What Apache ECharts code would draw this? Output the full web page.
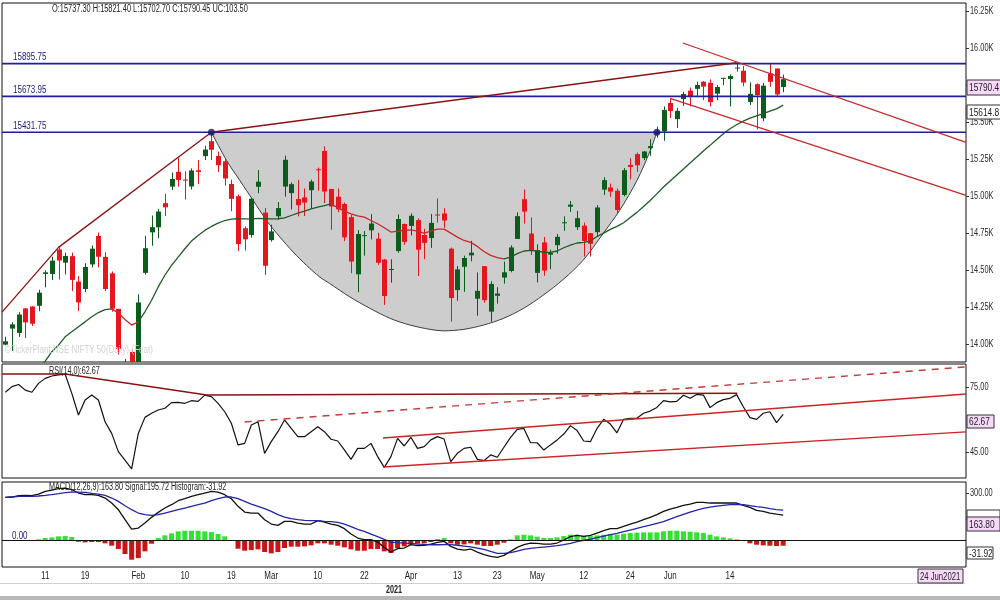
<!DOCTYPE html>
<html><head><meta charset="utf-8">
<script src="https://cdn.jsdelivr.net/npm/echarts@6/dist/echarts.min.js"></script>
<style>html,body{margin:0;padding:0;background:#fff}#c{width:1000px;height:600px}</style>
</head><body><div id="c"></div>
<script>
// ---------- DATA ----------
const dates = [
'2021-01-01','2021-01-04','2021-01-05','2021-01-06','2021-01-07','2021-01-08','2021-01-11','2021-01-12','2021-01-13','2021-01-14',
'2021-01-15','2021-01-18','2021-01-19','2021-01-20','2021-01-21','2021-01-22','2021-01-25','2021-01-27','2021-01-28','2021-01-29',
'2021-02-01','2021-02-02','2021-02-03','2021-02-04','2021-02-05','2021-02-08','2021-02-09','2021-02-10','2021-02-11','2021-02-12',
'2021-02-15','2021-02-16','2021-02-17','2021-02-18','2021-02-19','2021-02-22','2021-02-23','2021-02-24','2021-02-25','2021-02-26',
'2021-03-01','2021-03-02','2021-03-03','2021-03-04','2021-03-05','2021-03-08','2021-03-09','2021-03-10','2021-03-12','2021-03-15',
'2021-03-16','2021-03-17','2021-03-18','2021-03-19','2021-03-22','2021-03-23','2021-03-24','2021-03-25','2021-03-26','2021-03-30',
'2021-03-31','2021-04-01','2021-04-05','2021-04-06','2021-04-07','2021-04-08','2021-04-09','2021-04-12','2021-04-13','2021-04-15',
'2021-04-16','2021-04-19','2021-04-20','2021-04-22','2021-04-23','2021-04-26','2021-04-27','2021-04-28','2021-04-29','2021-04-30',
'2021-05-03','2021-05-04','2021-05-05','2021-05-06','2021-05-07','2021-05-10','2021-05-11','2021-05-12','2021-05-14','2021-05-17',
'2021-05-18','2021-05-19','2021-05-20','2021-05-21','2021-05-24','2021-05-25','2021-05-26','2021-05-27','2021-05-28','2021-05-31',
'2021-06-01','2021-06-02','2021-06-03','2021-06-04','2021-06-07','2021-06-08','2021-06-09','2021-06-10','2021-06-11','2021-06-14',
'2021-06-15','2021-06-16','2021-06-17','2021-06-18','2021-06-21','2021-06-22','2021-06-23','2021-06-24'];

const opens = [
13996.1,14104.35,14075.15,14240.95,14253.75,14258.4,14474.05,14473.8,14639.8,14550.05,
14594.35,14422.3,14371.9,14538.3,14730.95,14589.4,14477.8,14237.95,13810.4,13946.6,
13758.6,14481.1,14754.9,14789.05,14952.6,15064.3,15164.15,15112,15065,15174.8,
15270.3,15371.45,15271,15236,15082,14999,14783,14737,15063,14888.6,
14702.5,14863.9,15064.4,15020,14980,14991.2,15040,15182,15305,15048.4,
14996.1,14946.55,14858,14471.6,14733,14768.55,14712.45,14570.9,14506.3,14628.5,
14811.85,14798.4,14837.7,14737,14716.45,14875.65,14882.65,14644.65,14364.9,14522.4,
14599.6,14306.6,14526.95,14219.15,14326.3,14449.45,14493.8,14710.5,14979,14747.35,
14481.05,14687.25,14604.15,14668.35,14816.85,14928.25,14789.7,14800,14749.4,14756.3,
15044,15058.6,15036,15007.75,15211.35,15284,15257.05,15323.95,15421.2,15437.75,
15629.65,15520.3,15655.55,15712.5,15725.1,15773.55,15766.3,15692.6,15796.45,15791.4,
15866.95,15847.5,15636.55,15756.5,15525.85,15830,15862.8,15737.3];

const highs = [
14049.85,14147.95,14215.6,14244.15,14256.25,14367.3,14498.2,14590.65,14653.35,14617.8,
14617.8,14459.1,14546.05,14666.45,14753.55,14619.9,14491.1,14237.95,13898.25,13966.85,
14336.35,14731.7,14868.85,14913.7,15014.65,15159.9,15257.1,15168.25,15187.3,15243.5,
15340.15,15431.75,15301,15250,15111,15010,14795,14990,15176.3,14919.1,
14806.8,14960,15273.15,15092.35,15110,15051.6,15111,15193,15336.3,15048.4,
15051.6,14956.55,14875.2,14770,14763.9,14878.6,14752.35,14575.6,14572.9,14876.3,
14813.75,14883.2,14849.85,14779.1,14879.8,14984.15,14918.45,14652.5,14527.9,14597.55,
14697.7,14483.85,14526.95,14424.75,14384.3,14557.5,14667.55,14890.25,15044.35,14855.45,
14673.85,14723.4,14637.9,14743.9,14863.05,14966.9,14900.45,14821,14749.65,14938.6,
15128,15084.95,15052.25,15189.6,15256.25,15294,15305.1,15384.55,15469.65,15606.35,
15660.75,15597.45,15705.1,15733.6,15773.45,15778.8,15789,15751.25,15800,15823.05,
15901.6,15880.45,15769.35,15761.5,15765.15,15895.75,15862.95,15821.4];

const lows = [
13991.35,13953.75,14048.15,14039.9,14123.1,14221.65,14383.1,14432.85,14435.7,14471.5,
14357.85,14222.8,14350.85,14517.55,14517.25,14357.75,14218.6,13929.3,13713.25,13596.75,
13661.75,14469.15,14664.6,14714.75,14864.75,15041.05,15064.3,14977.2,15045,15081,
15243.45,15243.45,15163,15070,14898,14628,14633,14720,15020,14467.75,
14692.45,14840,14995.8,14910,14863,14865.75,14919,15036,14953.45,14772.35,
14890.65,14696.05,14478.6,14350,14597.85,14707,14535,14264.4,14414.25,14617.6,
14670.25,14734.4,14459.5,14573.9,14649.85,14821.1,14785.65,14151.4,14292.15,14353.2,
14559,14191.4,14278.4,14151.4,14273.3,14408,14484.85,14710.4,14814.45,14601.7,
14416.25,14461.5,14506.6,14611.5,14765.5,14892.5,14771.25,14591.9,14591.9,14725.35,
15008,14994.75,14884.7,14997.8,15112.25,15163.4,15243.6,15272.5,15394.75,15374,
15528.3,15459.85,15611,15606.35,15678.1,15649.3,15606.2,15648.5,15749.8,15606.5,
15842.4,15742.6,15616.75,15450.9,15505.65,15739.65,15673.95,15702.7];

const closes = [
14018.5,14132.9,14199.5,14146.25,14137.35,14347.25,14484.75,14563.45,14564.85,14595.6,
14433.7,14281.3,14521.15,14644.7,14590.35,14371.9,14238.9,13967.5,13817.55,13634.6,
14281.2,14647.85,14789.95,14895.65,14924.25,15115.8,15109.3,15106.5,15173.3,15163.3,
15314.7,15313.45,15208.9,15118.95,14981.75,14675.7,14707.7,14982,15097.35,14529.15,
14761.55,14919.1,15245.6,15080.75,14938.1,14956.2,15098.4,15174.8,15030.95,14929.5,
14910.45,14721.3,14557.85,14744,14736.4,14814.75,14549.4,14324.9,14507.3,14845.1,
14690.7,14867.35,14637.8,14683.5,14819.05,14873.8,14834.85,14310.8,14504.8,14581.45,
14617.85,14359.45,14296.4,14406.15,14341.35,14485,14653.05,14864.55,14894.9,14631.1,
14634.15,14496.5,14617.85,14724.8,14823.15,14942.35,14850.75,14696.5,14677.8,14923.15,
15108.1,15030.15,14906.05,15175.3,15197.7,15208.45,15301.45,15337.85,15435.65,15582.8,
15574.85,15576.2,15690.35,15670.25,15751.65,15740.1,15635.35,15737.75,15799.35,15811.85,
15869.25,15767.55,15691.4,15683.35,15746.5,15772.75,15686.95,15790.45];

const ma20 = [
13560,13620,13680,13730,13780,13830,13885,13948,13993,14049,
14083,14117,14150,14184,14213,14233,14238,14211,14166,14128,
14150,14218,14296,14386,14465,14532,14588,14644,14696,14734,
14768,14795,14817,14835,14844,14847,14846,14845,14849,14848,
14846,14847,14853,14869,14885,14898,14914,14925,14936,14947,
14921,14898,14880,14867,14858,14835,14813,14786,14757,14763,
14768,14772,14763,14750,14763,14777,14777,14750,14723,14700,
14687,14660,14626,14599,14584,14575,14588,14611,14629,14633,
14629,14620,14620,14629,14651,14669,14683,14687,14696,14727,
14750,14775,14795,14820,14855,14890,14930,14970,15015,15062,
15102,15143,15183,15224,15264,15305,15343,15383,15421,15455,
15482,15507,15527,15543,15558,15574,15590,15614.8];

const rsi = [
72.9,75.5,76.5,73.9,72.9,77.0,79.3,80.4,80.9,81.2,
72.4,62.4,69.3,71.6,69.3,59.3,53.9,45.5,41.6,37.5,
53.9,61.3,63.2,64.7,65.5,68.1,68.2,67.8,69.0,68.7,
71.6,70.9,67.8,63.9,58.6,48.6,49.3,57.8,59.3,44.7,
50.1,54.7,60.1,56.2,52.4,52.4,54.7,57.0,54.7,51.2,
50.4,46.3,41.9,47.0,47.0,49.3,43.2,38.2,43.2,51.6,
48.1,52.1,47.0,47.8,50.9,52.4,51.3,40.9,44.7,47.0,
47.5,41.9,41.3,44.0,42.9,47.5,52.1,55.8,56.2,49.6,
49.6,46.2,48.6,50.9,53.6,57.5,55.2,50.4,50.1,56.2,
60.4,58.2,54.2,60.4,60.9,60.9,63.2,64.2,65.9,69.0,
68.5,68.7,71.5,70.1,71.9,71.6,65.8,68.1,69.5,70.1,
71.8,66.2,61.2,60.4,63.2,63.9,58.9,62.67];

const macd = [
276.6,278.8,287.3,289.4,287.3,297.9,314.9,323.5,332.0,336.2,
325.6,304.3,293.7,293.7,289.4,272.4,240.5,197.9,134.1,74.5,
80.9,112.8,149.0,180.9,208.5,229.8,255.4,268.1,283.0,293.7,
304.3,314.9,310.7,293.7,268.1,219.2,183.0,176.6,176.6,134.1,
106.4,97.9,123.4,123.4,112.8,106.4,106.4,127.7,119.2,106.4,
97.9,76.6,42.6,17.0,6.4,6.4,-8.5,-42.6,-72.4,-51.1,
-46.8,-25.5,-31.9,-29.8,-21.3,-10.6,-4.3,-36.2,-53.2,-59.6,
-53.2,-72.4,-89.4,-100.0,-106.4,-93.6,-68.1,-42.6,-25.5,-14.9,
-17.0,-21.3,-21.3,-14.9,4.3,25.5,34.0,27.7,34.0,48.9,
63.8,76.6,76.6,91.5,106.4,119.2,134.1,149.0,166.0,187.3,
202.2,212.8,225.6,234.1,244.7,244.7,240.5,240.5,240.5,240.5,
240.5,225.6,212.8,193.6,187.3,176.6,170.0,163.80];

const signal = [
276.6,278.8,283.0,283.0,283.0,285.2,289.4,293.7,300.0,306.4,
310.7,310.7,308.6,302.2,297.9,289.4,272.4,251.1,223.4,197.9,
176.6,166.0,161.7,166.0,176.6,187.3,197.9,208.5,219.2,229.8,
240.5,255.4,268.1,278.8,278.8,268.1,251.1,234.1,219.2,204.3,
187.3,166.0,151.1,140.4,134.1,129.8,127.7,127.7,123.4,121.3,
117.0,106.4,89.4,72.4,59.6,42.6,25.5,8.5,-8.5,-12.8,
-14.9,-17.0,-21.3,-24.0,-26.0,-26.0,-25.0,-25.0,-29.0,-34.0,
-39.0,-46.8,-55.3,-68.1,-80.9,-80.9,-76.6,-66.0,-55.3,-48.9,
-44.7,-40.4,-36.2,-31.9,-25.5,-17.0,-6.4,2.1,10.6,19.2,
29.8,38.3,46.8,57.5,68.1,78.7,89.4,100.0,110.7,121.3,
138.3,153.2,168.1,183.0,195.8,206.4,214.9,221.3,225.6,229.8,
232.0,229.8,223.4,217.1,212.8,204.3,197.9,195.72];

const hist = [
0,0,2.1,4.3,4.3,8.5,17.0,21.3,27.7,29.8,
23.4,-6.4,-10.6,-8.5,-8.5,-17.0,-31.9,-53.2,-85.1,-121.3,
-110.7,-68.1,-19.2,17.0,34.0,46.8,59.6,63.8,63.8,63.8,
59.6,55.3,42.6,27.7,4.3,-51.1,-63.8,-59.6,-55.3,-72.4,
-80.9,-72.4,-46.8,-38.3,-38.3,-36.2,-29.8,-17.0,-17.0,-25.5,
-31.9,-42.6,-55.3,-63.8,-63.8,-53.2,-53.2,-68.1,-78.7,-46.8,
-36.2,-25.5,-19.2,-17.0,-8.5,10.6,17.0,-17.0,-25.5,-23.4,
-17.0,-25.5,-34.0,-34.0,-25.5,-12.8,8.5,34.0,38.3,34.0,
25.5,17.0,17.0,21.3,29.8,38.3,38.3,31.9,29.8,34.0,
38.3,42.6,38.3,44.7,48.9,51.1,53.2,53.2,53.2,59.6,
63.8,63.8,59.6,57.5,53.2,48.9,38.3,27.7,21.3,14.9,
8.5,2.1,-17.0,-25.5,-29.8,-31.9,-34.0,-31.92];

const levels = [15895.75, 15673.95, 15431.75];
const tickDates  = ['2021-01-11','2021-01-19','2021-02-01','2021-02-10','2021-02-19','2021-03-01','2021-03-10','2021-03-22','2021-04-01','2021-04-13','2021-04-23','2021-05-03','2021-05-12','2021-05-24','2021-06-01','2021-06-14'];
const tickLabels = ['11','19','Feb','10','19','Mar','10','22','Apr','13','23','May','12','24','Jun','14'];
const priceTicks = [14000,14250,14500,14750,15000,15250,15500,15750,16000,16250];
const rsiTicks = [45, 75];
const macdTicks = [300];

// annotations: [slot index, value]
const cupCurve = [[31,15431.75],[33.3,15239],[35.3,15104],[37.3,14969],[39.3,14835],[41.3,14723],[43.3,14622],[45.3,14532],[47.3,14453],[48.8,14409],[51.8,14319],[54.9,14240],[57.9,14173],[60.9,14128],[63.9,14099],[65.9,14089],[68.9,14099],[71.9,14128],[74.9,14173],[77.9,14240],[80.9,14330],[83.9,14436],[86.9,14566],[89.9,14746],[92.4,14903],[95,15105],[97,15307],[98,15431.75]];
const cupPivots = [[31,15431.75],[98,15431.75]];
const trendUp = [[-0.5,14216],[8,14653.35],[31,15431.75],[110,15901.6]];
const chanUpper = [[101.9,16035],[144.5,15364]];
const chanLower = [[100,15660.75],[144.5,15005]];
const rsiResist = [[-0.5,81.3],[9,81.3],[30.3,71.6],[110.1,72.4]];
const rsiDashed = [[36,59.2],[144.5,84.6]];
const rsiChanUpper = [[56.8,51.8],[144.5,72.1]];
const rsiChanLower = [[56.8,38.4],[144.5,54.6]];

// ---------- CHART ----------
const SLOTS = 145;
const cats = dates.slice();
for (let k = 0; cats.length < SLOTS; k++) cats.push('slot' + k);
const FONT = "'Liberation Sans',Arial,sans-serif";
const fnt = (s, w) => (w || 'normal') + ' ' + s + 'px ' + FONT;
const SX = 0.75;
const last = dates.length - 1;
const UP = '#0c5c1c', DOWN = '#e5161c';

function sText(text, x, y, o) {
  o = o || {};
  return {type: 'text', x, y, z2: 50, scaleX: o.sx || SX, silent: true,
    style: {text, x: 0, y: 0, font: fnt(o.size || 10, o.weight), fill: o.color || '#222',
      align: o.align || 'left', verticalAlign: 'middle'}};
}

const G = [
  {left: 2, right: 34, top: 3, height: 359},
  {left: 2, right: 34, top: 364, height: 114},
  {left: 2, right: 34, top: 482, height: 85}
].map(g => Object.assign(g, {show: true, borderColor: '#111', borderWidth: 1, backgroundColor: '#fff', containLabel: false, outerBoundsMode: 'none'}));

function catAxis(gi) {
  return {type: 'category', gridIndex: gi, data: cats, boundaryGap: true,
    axisLine: {show: false}, axisTick: {show: false}, splitLine: {show: false}, axisLabel: {show: false}};
}
function valXAxis(gi) {
  return {type: 'value', gridIndex: gi, min: -0.5, max: SLOTS - 0.5, show: false};
}
function yAx(gi, min, max, ticks) {
  return {type: 'value', gridIndex: gi, position: 'right', min, max, scale: true,
    axisLine: {show: false, onZero: false}, splitLine: {show: false},
    axisTick: {show: true, length: 3, customValues: ticks, lineStyle: {color: '#333'}},
    axisLabel: {show: false}};
}
function annot(data, xi, yi, color, width, type, z) {
  return {type: 'line', xAxisIndex: xi, yAxisIndex: yi, data, symbol: 'none', silent: true, clip: true,
    lineStyle: {color, width, type: type || 'solid'}, z: z || 5, animation: false};
}
// right-hand tick labels drawn through the axis scale
function yLabels(ticks, xi, yi, fmt) {
  return {type: 'custom', xAxisIndex: xi, yAxisIndex: yi, data: ticks.map(v => [SLOTS - 0.5, v]), clip: false, silent: true, z: 20,
    renderItem: (params, api) => {
      const p = api.coord([api.value(0), api.value(1)]);
      return sText(fmt(api.value(1)), p[0] + 4, p[1], {color: '#2a2a2a', sx: 0.74});
    }};
}
function box(x, y, w, h, fill, text, sx) {
  return {type: 'group', z: 100, children: [
    {type: 'rect', z: 100, shape: {x, y, width: w, height: h}, style: {fill, stroke: '#333', lineWidth: 1}},
    Object.assign(sText(text, x + 2, y + h / 2 + 0.5, {size: 11, sx: sx || 0.76}), {z: 101})
  ]};
}
function gText(text, x, y, o) { return Object.assign(sText(text, x, y, o), {z: 90}); }

const f2 = v => v.toFixed(2);
const trunc1 = v => (Math.floor(v * 10) / 10).toFixed(1);
const header = 'O:' + f2(opens[last]) + ' H:' + f2(highs[last]) + ' L:' + f2(lows[last]) + ' C:' + f2(closes[last]) + ' UC:' + f2(closes[last] - closes[last - 1]);

const option = {
  animation: false,
  backgroundColor: '#fff',
  grid: G,
  xAxis: [catAxis(0), catAxis(1), catAxis(2), valXAxis(0), valXAxis(1), valXAxis(2)],
  yAxis: [
    yAx(0, 13878.6, 16305.4, priceTicks),
    yAx(1, 33.32, 85.94, rsiTicks),
    yAx(2, -167.9, 374.7, macdTicks)
  ],
  visualMap: [{
    type: 'piecewise', show: false, seriesIndex: 2, dimension: 0,
    pieces: [
      {lt: 16, color: '#1f5a22'}, {gte: 16, lt: 20, color: '#c8282a'},
      {gte: 20, lt: 49, color: '#1f5a22'}, {gte: 49, lt: 75.4, color: '#c8282a'},
      {gte: 75.4, color: '#1f5a22'}
    ]
  }],
  series: [
    { // 0: cup fill
      type: 'custom', xAxisIndex: 3, yAxisIndex: 0, data: [0], z: 1, silent: true, clip: true,
      renderItem: (params, api) => {
        const pts = cupCurve.map(p => api.coord(p));
        return {type: 'group', children: [
          {type: 'polygon', shape: {points: pts}, style: {fill: '#cdcdcd', stroke: null}},
          {type: 'polyline', shape: {points: pts, smooth: 0.3}, style: {stroke: '#3a3a3a', lineWidth: 1, fill: null}}
        ]};
      }
    },
    { // 1: candles (custom so they clip to the price panel)
      type: 'custom', xAxisIndex: 0, yAxisIndex: 0, clip: true, z: 3, silent: true,
      data: dates.map((d, i) => [i, opens[i], closes[i], lows[i], highs[i]]),
      encode: {x: 0, y: [1, 2, 3, 4]},
      renderItem: (params, api) => {
        const i = api.value(0), o = api.value(1), c = api.value(2), l = api.value(3), h = api.value(4);
        const pO = api.coord([i, o]), pC = api.coord([i, c]), pL = api.coord([i, l]), pH = api.coord([i, h]);
        const col = c >= o ? UP : DOWN;
        const x = Math.round(pO[0]) + 0.5;
        const top = Math.min(pO[1], pC[1]), ht = Math.max(1, Math.abs(pO[1] - pC[1]));
        return {type: 'group', children: [
          {type: 'line', shape: {x1: x, y1: pH[1], x2: x, y2: pL[1]}, style: {stroke: col, lineWidth: 1}},
          {type: 'rect', shape: {x: x - 2.5, y: top, width: 5, height: ht}, style: {fill: col, stroke: null}}
        ]};
      }
    },
    { // 2: moving average
      type: 'line', xAxisIndex: 0, yAxisIndex: 0, data: ma20, symbol: 'none', clip: true, z: 4,
      lineStyle: {width: 1.3}
    },
    annot(trendUp, 3, 0, '#8a1212', 1.3),
    annot(chanUpper, 3, 0, '#c42a2a', 1.3),
    annot(chanLower, 3, 0, '#c42a2a', 1.3),
    { // level lines with their labels
      type: 'custom', xAxisIndex: 3, yAxisIndex: 0, data: levels.map(v => [-0.5, v]), clip: false, silent: true, z: 5,
      renderItem: (params, api) => {
        const v = api.value(1);
        const p0 = api.coord([-0.5, v]), p1 = api.coord([SLOTS - 0.5, v]);
        return {type: 'group', children: [
          {type: 'line', shape: {x1: p0[0], y1: p0[1], x2: p1[0], y2: p1[1]}, style: {stroke: '#1e1e9e', lineWidth: 1.6}},
          sText(v.toFixed(2), p0[0] + 11, p0[1] - 6, {color: '#1a1a7a', sx: 0.8})
        ]};
      }
    },
    {type: 'scatter', xAxisIndex: 3, yAxisIndex: 0, data: cupPivots, symbolSize: 7, itemStyle: {color: '#141a66'}, z: 6, silent: true},
    // RSI
    {type: 'line', xAxisIndex: 1, yAxisIndex: 1, data: rsi, symbol: 'none', clip: true, z: 4, lineStyle: {color: '#111', width: 1.2}},
    annot(rsiResist, 4, 1, '#8a1212', 1.5),
    annot(rsiDashed, 4, 1, '#c23a3a', 1.4, [7, 6]),
    annot(rsiChanUpper, 4, 1, '#cc2424', 1.4),
    annot(rsiChanLower, 4, 1, '#cc2424', 1.4),
    // MACD
    {
      type: 'bar', xAxisIndex: 2, yAxisIndex: 2, data: hist, barWidth: 5, z: 2, silent: true,
      itemStyle: {color: p => p.value >= 0 ? '#2fe32f' : '#c81414'},
      markLine: {silent: true, symbol: ['none', 'none'], animation: false, label: {show: false},
        lineStyle: {color: '#111', width: 1, type: 'solid'}, data: [{yAxis: 0}]}
    },
    {type: 'line', xAxisIndex: 2, yAxisIndex: 2, data: macd, symbol: 'none', z: 4, lineStyle: {color: '#111', width: 1.3}},
    {type: 'line', xAxisIndex: 2, yAxisIndex: 2, data: signal, symbol: 'none', z: 4, lineStyle: {color: '#2424a8', width: 1.3}},
    // axis labels
    yLabels(priceTicks, 3, 0, v => (v / 1000).toFixed(2) + 'K'),
    yLabels(rsiTicks, 4, 1, v => v.toFixed(2)),
    yLabels(macdTicks, 5, 2, v => v.toFixed(2)),
    { // date labels under the MACD panel
      type: 'custom', xAxisIndex: 2, yAxisIndex: 2, clip: false, silent: true, z: 20,
      data: tickDates.map(d => [dates.indexOf(d), -167.9]),
      renderItem: (params, api) => {
        const p = api.coord([api.value(0), api.value(1)]);
        return sText(tickLabels[params.dataIndex], p[0], p[1] + 9, {align: 'center', sx: 0.8});
      }
    }
  ],
  graphic: {elements: [
    gText(header, 52, 9, {sx: 0.74}),
    gText('©TickerPlant:NSE NIFTY 50(Daily)-(Feat)', 5, 350, {color: '#d2d2d2', sx: 0.8}),
    gText('RSI(14,0):' + f2(rsi[last]), 49, 371, {sx: 0.72}),
    gText('MACD(12,26,9):' + f2(macd[last]) + ' Signal:' + f2(signal[last]) + ' Histogram:' + f2(hist[last]), 49, 487, {sx: 0.72}),
    gText('0.00', 12, 536, {color: '#1a1a6a', sx: 0.8}),
    gText('2021', 386, 590, {weight: 'bold', sx: 0.72}),
    {type: 'rect', z: 80, shape: {x: 0, y: 583, width: 965, height: 1}, style: {fill: '#d0d0d0'}},
    {type: 'rect', z: 80, shape: {x: 0, y: 596, width: 1000, height: 4}, style: {fill: '#b8b8b8'}},
    box(967, 80, 34, 15, '#f8d8f8', trunc1(closes[last])),
    box(967, 105, 34, 14, '#ffffff', trunc1(ma20[last])),
    box(967, 415, 27, 13, '#f8d8f8', f2(rsi[last])),
    box(967, 510, 33, 10, '#ffffff', ''),
    box(967, 517, 33, 14, '#f8d8f8', f2(macd[last])),
    box(967, 547, 26, 12, '#ffffff', f2(hist[last])),
    box(918, 569, 45, 14, '#f8d8f8', '24 Jun2021', 0.7)
  ]}
};

const chart = echarts.init(document.getElementById('c'), null, {renderer: 'canvas'});
chart.setOption(option);
</script>
</body></html>
